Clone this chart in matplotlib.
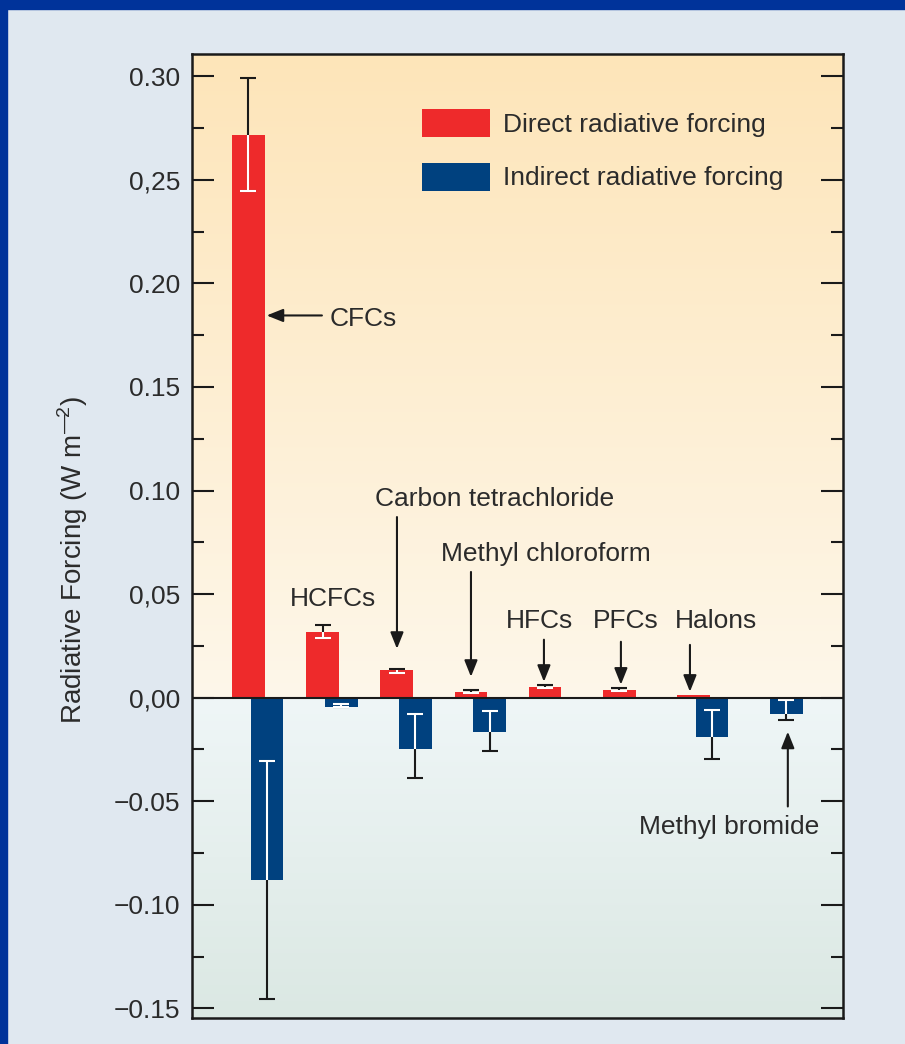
import numpy as np
import matplotlib
matplotlib.use("Agg")
import matplotlib.pyplot as plt
from matplotlib.patches import Rectangle
from matplotlib.ticker import MultipleLocator

# compounds, left to right
compounds = ["CFCs", "HCFCs", "Carbon tetrachloride", "Methyl chloroform",
             "HFCs", "PFCs", "Halons", "Methyl bromide"]

# direct radiative forcing (W m-2) and its error (down / up)
direct = [0.2715, 0.0318, 0.0136, 0.0029, 0.0052, 0.0039, 0.0013, np.nan]
direct_err_lo = [0.0271, 0.0029, 0.0018, 0.0005, 0.0007, 0.0007, 0.0, 0.0]
direct_err_hi = [0.0277, 0.0032, 0.0003, 0.0008, 0.0009, 0.0009, 0.0, 0.0]

# indirect radiative forcing (W m-2) and its error (down / up)
indirect = [-0.0878, -0.0047, -0.0250, -0.0167, np.nan, np.nan, -0.0189, -0.0080]
indirect_err_lo = [0.0576, 0.0, 0.0139, 0.0090, 0.0, 0.0, 0.0105, 0.0030]
indirect_err_hi = [0.0571, 0.0017, 0.0173, 0.0105, 0.0, 0.0, 0.0129, 0.0069]

yticks = [-0.15, -0.10, -0.05, 0.0, 0.05, 0.10, 0.15, 0.20, 0.25, 0.30]
ytick_labels = ["\u22120.15", "\u22120.10", "\u22120.05", "0,00", "0,05",
                "0.10", "0.15", "0.20", "0,25", "0.30"]

RED = "#ee2a2b"
BLUE = "#00417f"
INK = "#2b2b2b"
FRAME = "#00339a"
PANEL = "#e0e8f0"

plt.rcParams["font.family"] = ["Liberation Sans", "DejaVu Sans"]
plt.rcParams["mathtext.fontset"] = "custom"
plt.rcParams["mathtext.rm"] = "Liberation Sans"
FS = 19

fig = plt.figure(figsize=(9.05, 10.44), dpi=100, facecolor=PANEL)
fig.add_artist(Rectangle((0, 0), 7 / 905, 1, transform=fig.transFigure,
                         color=FRAME, zorder=10))
fig.add_artist(Rectangle((0, 1 - 9 / 1044), 1, 9 / 1044, transform=fig.transFigure,
                         color=FRAME, zorder=10))

ax = fig.add_axes([192 / 905, 1 - 1018 / 1044, 651 / 905, 964 / 1044])

xlim = (-0.887, 7.892)
ylim = (-0.1546, 0.3107)

# background gradients: warm above zero, cool below
def vgrad(c_top, c_bot, n=200):
    a = np.array(matplotlib.colors.to_rgb(c_top))
    b = np.array(matplotlib.colors.to_rgb(c_bot))
    t = np.linspace(0, 1, n)[:, None]
    return (a * (1 - t) + b * t)[:, None, :]

ax.imshow(vgrad("#fde5b9", "#fef7ea"), extent=(xlim[0], xlim[1], 0, ylim[1]),
          aspect="auto", zorder=0, interpolation="bicubic")
ax.imshow(vgrad("#eff6f7", "#dbe8e3"), extent=(xlim[0], xlim[1], ylim[0], 0),
          aspect="auto", zorder=0, interpolation="bicubic")

x = np.arange(len(compounds))
width = 0.44
off = 0.126

bars_d = ax.bar(x - off, direct, width, color=RED, zorder=2)
bars_i = ax.bar(x + off, indirect, width, color=BLUE, zorder=2)


def add_err(bars, vals, lo, hi):
    # black whiskers outside the bar, white where they run over it
    for b, v, l, h in zip(bars, vals, lo, hi):
        if np.isnan(v) or (l == 0 and h == 0):
            continue
        xc = b.get_x() + b.get_width() / 2
        ax.errorbar(xc, v, yerr=[[l], [h]], fmt="none", ecolor="#1a1a1a",
                    elinewidth=1.5, capsize=6, capthick=1.5, zorder=3)
        ew = ax.errorbar(xc, v, yerr=[[l], [h]], fmt="none", ecolor="white",
                         elinewidth=1.5, capsize=6, capthick=1.5, zorder=4)
        for art in list(ew.lines[1]) + list(ew.lines[2]):
            art.set_clip_path(b)


add_err(bars_d, direct, direct_err_lo, direct_err_hi)
add_err(bars_i, indirect, indirect_err_lo, indirect_err_hi)

ax.axhline(0, color="#1a1a1a", lw=1.5, zorder=5)

ax.set_xlim(*xlim)
ax.set_ylim(*ylim)
ax.set_xticks([])
ax.set_yticks(yticks, ytick_labels)
ax.yaxis.set_minor_locator(MultipleLocator(0.025))
ax.tick_params(axis="y", which="major", direction="in", length=16, width=1.5,
               left=True, right=True, pad=8.5, labelsize=FS, labelcolor=INK,
               color="#1a1a1a")
ax.tick_params(axis="y", which="minor", direction="in", length=8.5, width=1.5,
               left=True, right=True, color="#1a1a1a")
for s in ax.spines.values():
    s.set_linewidth(1.8)
    s.set_color("#1a1a1a")

ax.set_ylabel("Radiative Forcing (W m$^{\\mathregular{\u2014}\\!\\mathregular{2}}$)",
              fontsize=20, color=INK)
ax.yaxis.set_label_coords(-0.156, 0.475)

# labels and arrows
arrow_kw = dict(arrowstyle="-|>,head_length=0.55,head_width=0.22", color="#1a1a1a",
                lw=1.5, shrinkA=0, shrinkB=0, mutation_scale=18)
ax.text(0.974, 0.183, "CFCs", fontsize=FS, color=INK, ha="left", va="center")
ax.annotate("", xy=(0.12, 0.1845), xytext=(0.865, 0.1845), arrowprops=arrow_kw)
ax.text(1.02, 0.0475, "HCFCs", fontsize=FS, color=INK, ha="center", va="center")
ax.text(3.19, 0.096, "Carbon tetrachloride", fontsize=FS, color=INK, ha="center", va="center")
ax.annotate("", xy=(1.877, 0.0236), xytext=(1.877, 0.0872), arrowprops=arrow_kw)
ax.text(3.88, 0.0694, "Methyl chloroform", fontsize=FS, color=INK, ha="center", va="center")
ax.annotate("", xy=(2.875, 0.0101), xytext=(2.875, 0.0607), arrowprops=arrow_kw)
ax.text(3.80, 0.0371, "HFCs", fontsize=FS, color=INK, ha="center", va="center")
ax.annotate("", xy=(3.859, 0.0077), xytext=(3.859, 0.028), arrowprops=arrow_kw)
ax.text(4.965, 0.0371, "PFCs", fontsize=FS, color=INK, ha="center", va="center")
ax.annotate("", xy=(4.897, 0.0063), xytext=(4.897, 0.027), arrowprops=arrow_kw)
ax.text(6.185, 0.0371, "Halons", fontsize=FS, color=INK, ha="center", va="center")
ax.annotate("", xy=(5.828, 0.0029), xytext=(5.828, 0.0255), arrowprops=arrow_kw)
ax.text(6.35, -0.0622, "Methyl bromide", fontsize=FS, color=INK, ha="center", va="center")
ax.annotate("", xy=(7.148, -0.0164), xytext=(7.148, -0.0525), arrowprops=arrow_kw)

ax.legend([bars_d, bars_i], ["Direct radiative forcing", "Indirect radiative forcing"],
          loc="upper left", bbox_to_anchor=(0.3533, 0.943), frameon=False,
          fontsize=FS, labelcolor=INK, handlelength=2.58, handleheight=1.255,
          handletextpad=0.49, labelspacing=0.97, borderpad=0, borderaxespad=0)

fig.savefig("out.png", dpi=100, facecolor=PANEL)
